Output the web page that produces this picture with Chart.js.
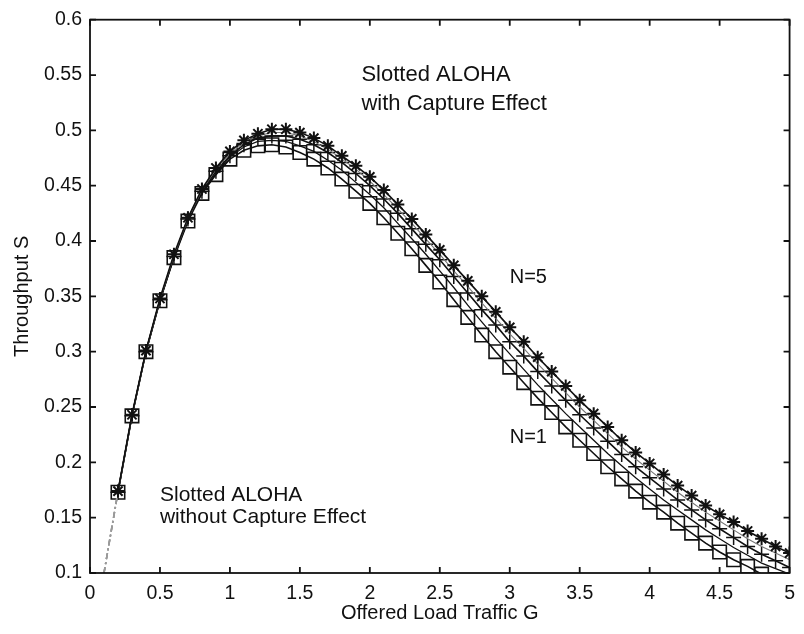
<!DOCTYPE html>
<html>
<head>
<meta charset="utf-8">
<script src="https://cdn.jsdelivr.net/npm/chart.js@4.4.1/dist/chart.umd.min.js"></script>
<style>
  html, body { margin: 0; padding: 0; background: #fff; }
  #wrap { width: 804px; height: 634px; position: relative; }
</style>
</head>
<body>
<div id="wrap"><canvas id="alohaChart"></canvas></div>
<script>
// Offered load G (x) and throughput S (y)
const offeredLoad = [0.1, 0.2, 0.3, 0.4, 0.5, 0.6, 0.7, 0.8, 0.9, 1.0,
    1.1, 1.2, 1.3, 1.4, 1.5, 1.6, 1.7, 1.8, 1.9, 2.0,
    2.1, 2.2, 2.3, 2.4, 2.5, 2.6, 2.7, 2.8, 2.9, 3.0,
    3.1, 3.2, 3.3, 3.4, 3.5, 3.6, 3.7, 3.8, 3.9, 4.0,
    4.1, 4.2, 4.3, 4.4, 4.5, 4.6, 4.7, 4.8, 4.9, 5.0];

const throughputN1 = [0.100, 0.173, 0.242, 0.300, 0.346, 0.385, 0.418, 0.443, 0.460, 0.474,
    0.482, 0.486, 0.487, 0.485, 0.480, 0.474, 0.466, 0.456, 0.445, 0.434,
    0.421, 0.407, 0.393, 0.378, 0.363, 0.347, 0.331, 0.315, 0.300, 0.286,
    0.272, 0.258, 0.245, 0.232, 0.220, 0.208, 0.196, 0.185, 0.174, 0.164,
    0.155, 0.145, 0.136, 0.127, 0.119, 0.112, 0.106, 0.099, 0.094, 0.089];

const throughputN2 = [0.100, 0.173, 0.242, 0.300, 0.346, 0.385, 0.419, 0.444, 0.461, 0.476,
    0.485, 0.490, 0.491, 0.490, 0.486, 0.481, 0.473, 0.464, 0.453, 0.442,
    0.430, 0.416, 0.402, 0.388, 0.373, 0.358, 0.342, 0.327, 0.312, 0.298,
    0.284, 0.270, 0.257, 0.244, 0.232, 0.220, 0.208, 0.197, 0.186, 0.176,
    0.166, 0.157, 0.148, 0.139, 0.131, 0.123, 0.116, 0.109, 0.104, 0.099];

const throughputN3 = [0.100, 0.173, 0.242, 0.300, 0.347, 0.386, 0.420, 0.445, 0.463, 0.477,
    0.487, 0.493, 0.495, 0.495, 0.492, 0.487, 0.480, 0.471, 0.461, 0.450,
    0.438, 0.425, 0.411, 0.397, 0.383, 0.368, 0.353, 0.338, 0.324, 0.309,
    0.296, 0.282, 0.269, 0.256, 0.243, 0.231, 0.219, 0.207, 0.196, 0.186,
    0.176, 0.166, 0.157, 0.148, 0.140, 0.132, 0.124, 0.117, 0.111, 0.105];

const throughputN4 = [0.100, 0.173, 0.242, 0.300, 0.347, 0.387, 0.420, 0.446, 0.465, 0.479,
    0.489, 0.495, 0.498, 0.498, 0.495, 0.490, 0.483, 0.474, 0.465, 0.454,
    0.442, 0.429, 0.416, 0.402, 0.388, 0.373, 0.359, 0.344, 0.330, 0.316,
    0.303, 0.289, 0.276, 0.263, 0.250, 0.238, 0.226, 0.214, 0.203, 0.193,
    0.183, 0.173, 0.164, 0.155, 0.147, 0.139, 0.131, 0.124, 0.118, 0.112];

const throughputN5 = [0.100, 0.174, 0.243, 0.301, 0.348, 0.388, 0.421, 0.447, 0.466, 0.481,
    0.491, 0.497, 0.501, 0.501, 0.498, 0.493, 0.486, 0.477, 0.468, 0.458,
    0.446, 0.433, 0.420, 0.406, 0.392, 0.378, 0.364, 0.350, 0.336, 0.322,
    0.309, 0.295, 0.282, 0.269, 0.256, 0.244, 0.232, 0.220, 0.209, 0.199,
    0.189, 0.179, 0.170, 0.161, 0.153, 0.146, 0.138, 0.131, 0.124, 0.118];

const xTickValues = [0, 0.5, 1, 1.5, 2, 2.5, 3, 3.5, 4, 4.5, 5];
const yTickValues = [0.1, 0.15, 0.2, 0.25, 0.3, 0.35, 0.4, 0.45, 0.5, 0.55, 0.6];

const FONT = "'Liberation Sans', Arial, sans-serif";

function toPoints(values) {
    return offeredLoad.map((g, i) => ({ x: g, y: values[i] }));
}

// first segment (G < 0.2) is the grey dash-dot of the plain slotted ALOHA curve
const firstSegment = {
    borderColor: ctx => ctx.p0DataIndex === 0 ? '#9a9a9a' : undefined,
    borderDash: ctx => ctx.p0DataIndex === 0 ? [6, 3, 2, 3] : undefined
};

function series(label, values, opts) {
    return Object.assign({
        label: label,
        data: toPoints(values),
        borderColor: '#111',
        borderWidth: 1.6,
        backgroundColor: 'transparent',
        pointBackgroundColor: 'transparent',
        pointBorderColor: '#111',
        pointRadius: 0,
        tension: 0,
        segment: firstSegment
    }, opts);
}

// inward tick marks and box frame, MATLAB style
const frameTicks = {
    id: 'frameTicks',
    afterDatasetsDraw(chart) {
        const { ctx, chartArea: a, scales: { x, y } } = chart;
        ctx.save();
        ctx.strokeStyle = '#111';
        ctx.lineWidth = 1.8;
        ctx.strokeRect(a.left, a.top, a.right - a.left, a.bottom - a.top);
        ctx.beginPath();
        xTickValues.forEach(v => {
            const px = x.getPixelForValue(v);
            ctx.moveTo(px, a.bottom); ctx.lineTo(px, a.bottom - 6);
            ctx.moveTo(px, a.top); ctx.lineTo(px, a.top + 6);
        });
        yTickValues.forEach(v => {
            const py = y.getPixelForValue(v);
            ctx.moveTo(a.left, py); ctx.lineTo(a.left + 6, py);
            ctx.moveTo(a.right, py); ctx.lineTo(a.right - 6, py);
        });
        ctx.stroke();
        ctx.restore();
    }
};

// text notes placed in data coordinates
const notes = {
    id: 'notes',
    afterDraw(chart) {
        const { ctx, scales: { x, y } } = chart;
        const put = (txt, gx, sy) => ctx.fillText(txt, x.getPixelForValue(gx), y.getPixelForValue(sy));
        ctx.save();
        ctx.fillStyle = '#111';
        ctx.textBaseline = 'middle';
        ctx.textAlign = 'left';
        ctx.font = '22px ' + FONT;
        put('Slotted ALOHA', 1.94, 0.550);
        put('with Capture Effect', 1.94, 0.524);
        ctx.font = '20px ' + FONT;
        put('N=5', 3.0, 0.367);
        put('N=1', 3.0, 0.2225);
        ctx.font = '21px ' + FONT;
        put('Slotted ALOHA', 0.5, 0.170);
        put('without Capture Effect', 0.5, 0.150);
        ctx.restore();
    }
};

const ctx = document.getElementById('alohaChart').getContext('2d');
const alohaChart = new Chart(ctx, {
    type: 'line',
    data: {
        datasets: [
            series('N=5', throughputN5, {
                pointStyle: 'star',
                pointRadius: c => c.dataIndex === 0 ? 0 : 6.5,
                pointBorderWidth: 2
            }),
            series('N=4', throughputN4, { borderColor: '#777', borderWidth: 1.1 }),
            series('N=3', throughputN3, {
                pointStyle: 'cross',
                pointRadius: c => c.dataIndex === 0 ? 0 : 7.5,
                pointBorderWidth: 1.5
            }),
            series('N=2', throughputN2, { borderWidth: 1.3 }),
            series('N=1', throughputN1, {
                pointStyle: 'rect',
                pointRadius: c => c.dataIndex === 0 ? 0 : 9.5,
                pointBorderWidth: 1.6
            })
        ]
    },
    options: {
        responsive: true,
        maintainAspectRatio: false,
        animation: false,
        layout: { padding: { top: 18, right: 9, left: 0, bottom: 0 } },
        plugins: {
            legend: { display: false },
            tooltip: { enabled: false }
        },
        scales: {
            x: {
                type: 'linear',
                min: 0,
                max: 5,
                grid: { display: false, drawTicks: false },
                border: { display: false },
                afterBuildTicks: s => { s.ticks = xTickValues.map(v => ({ value: v })); },
                afterFit: s => { s.height = 61; },
                ticks: {
                    color: '#111',
                    padding: 9,
                    maxRotation: 0,
                    font: { family: FONT, size: 19.5 },
                    callback: v => String(v)
                },
                title: {
                    display: true,
                    text: 'Offered Load Traffic G',
                    color: '#111',
                    font: { family: FONT, size: 20 },
                    padding: { top: 0, bottom: 9 }
                }
            },
            y: {
                type: 'linear',
                min: 0.1,
                max: 0.6,
                grid: { display: false, drawTicks: false },
                border: { display: false },
                afterBuildTicks: s => { s.ticks = yTickValues.map(v => ({ value: v })); },
                afterFit: s => { s.width = 90; },
                ticks: {
                    color: '#111',
                    padding: 8,
                    font: { family: FONT, size: 19.5 },
                    callback: v => String(v)
                },
                title: {
                    display: true,
                    text: 'Throughput S',
                    color: '#111',
                    font: { family: FONT, size: 20 },
                    padding: { top: 10, bottom: 0 }
                }
            }
        }
    },
    plugins: [frameTicks, notes]
});
</script>
</body>
</html>
